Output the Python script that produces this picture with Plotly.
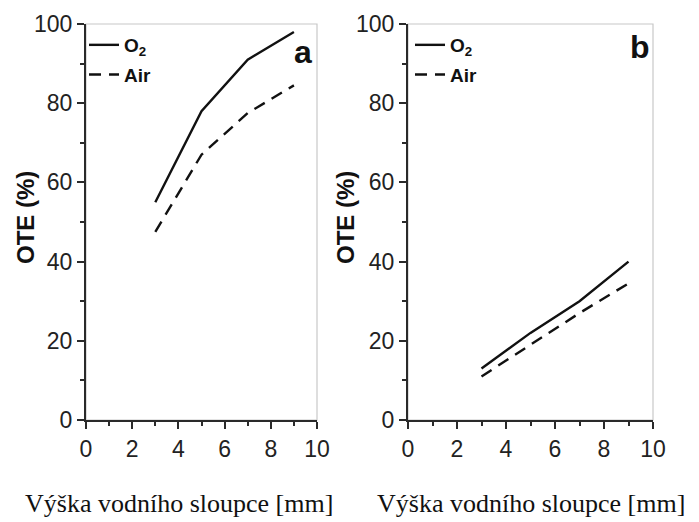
import plotly.graph_objects as go

# ---- data ----
height_mm = [3, 5, 7, 9]
a_o2 = [55, 78, 91, 98]
a_air = [47.5, 67, 77.5, 84.5]
b_o2 = [13, 22, 30, 40]
b_air = [11, 19, 27, 34.5]
x_ticks = [0, 2, 4, 6, 8, 10]
y_ticks = [0, 20, 40, 60, 80, 100]
panel_labels = ["a", "b"]
x_title = "Výška vodního sloupce [mm]"
y_title = "OTE (%)"

W, H = 699, 522
def px(x):
    return x / W
def py(y):
    return (H - y) / H

SANS = "Arial, Liberation Sans, sans-serif"
SERIF = "Times New Roman, Liberation Serif, serif"
LINE = "#111111"
AX = "#2a2a2a"

fig = go.Figure()
fig.add_trace(go.Scatter(x=height_mm, y=a_o2, mode="lines", name="O<sub>2</sub>",
                         line=dict(color=LINE, width=2.4), xaxis="x", yaxis="y",
                         legend="legend", legendgroup="a1"))
fig.add_trace(go.Scatter(x=height_mm, y=a_air, mode="lines", name="Air",
                         line=dict(color=LINE, width=2.4, dash="12px,8px"), xaxis="x", yaxis="y",
                         legend="legend", legendgroup="a2"))
fig.add_trace(go.Scatter(x=height_mm, y=b_o2, mode="lines", name="O<sub>2</sub>",
                         line=dict(color=LINE, width=2.4), xaxis="x2", yaxis="y2",
                         legend="legend2", legendgroup="b1"))
fig.add_trace(go.Scatter(x=height_mm, y=b_air, mode="lines", name="Air",
                         line=dict(color=LINE, width=2.4, dash="12px,8px"), xaxis="x2", yaxis="y2",
                         legend="legend2", legendgroup="b2"))

ydom = [py(420), py(24)]
common_x = dict(range=[0, 10], tickvals=x_ticks, ticks="outside", ticklen=7, tickwidth=1.5,
                tickcolor=AX, showline=True, linecolor=AX, linewidth=2, showgrid=False,
                zeroline=False, tickfont=dict(family=SANS, size=23, color="#222"),
                minor=dict(dtick=1, ticks="outside", ticklen=4, tickcolor=AX, tickwidth=1.5),
                fixedrange=True)
common_y = dict(range=[0, 100], tickvals=y_ticks, ticks="outside", ticklen=7, tickwidth=1.5,
                tickcolor=AX, showline=True, linecolor=AX, linewidth=2, showgrid=False,
                zeroline=False, tickfont=dict(family=SANS, size=23, color="#222"),
                minor=dict(dtick=10, ticks="outside", ticklen=4, tickcolor=AX, tickwidth=1.5),
                domain=ydom, fixedrange=True)

legend_common = dict(bgcolor="rgba(0,0,0,0)", borderwidth=0, tracegroupgap=2,
                     font=dict(family=SANS, size=19, color="#111", weight="bold"),
                     xanchor="left", yanchor="top", itemwidth=30)

fig.update_layout(
    width=W, height=H,
    margin=dict(l=0, r=0, t=0, b=0, autoexpand=False),
    paper_bgcolor="white", plot_bgcolor="white",
    showlegend=True,
    xaxis=dict(common_x, domain=[px(86), px(317)], anchor="y"),
    yaxis=dict(common_y, anchor="x"),
    xaxis2=dict(common_x, domain=[px(408), px(653)], anchor="y2"),
    yaxis2=dict(common_y, anchor="x2"),
    legend=dict(legend_common, x=px(84), y=py(26)),
    legend2=dict(legend_common, x=px(410), y=py(26)),
)

# light gray top/right frame
for xr, yr in [("x domain", "y domain"), ("x2 domain", "y2 domain")]:
    fig.add_shape(type="rect", xref=xr, yref=yr, x0=0, x1=1, y0=0, y1=1,
                  line=dict(color="#c8c8c8", width=1.2), layer="below")

# panel letters
fig.add_annotation(text="<b>%s</b>" % panel_labels[0], x=px(303), y=py(52), xref="paper", yref="paper",
                   showarrow=False, font=dict(family=SANS, size=32, color="#111"),
                   xanchor="center", yanchor="middle")
fig.add_annotation(text="<b>%s</b>" % panel_labels[1], x=px(640), y=py(47), xref="paper", yref="paper",
                   showarrow=False, font=dict(family=SANS, size=32, color="#111"),
                   xanchor="center", yanchor="middle")

# y titles
for xc in [26, 346]:
    fig.add_annotation(text="<b>%s</b>" % y_title, x=px(xc), y=py(218), xref="paper", yref="paper",
                       showarrow=False, textangle=-90, font=dict(family=SANS, size=24, color="#111"),
                       xanchor="center", yanchor="middle")

# x titles
for xc in [179, 531]:
    fig.add_annotation(text=x_title, x=px(xc), y=py(503), xref="paper", yref="paper",
                       showarrow=False, font=dict(family=SERIF, size=26, color="#111"),
                       xanchor="center", yanchor="middle")

fig.write_html("out.html")
